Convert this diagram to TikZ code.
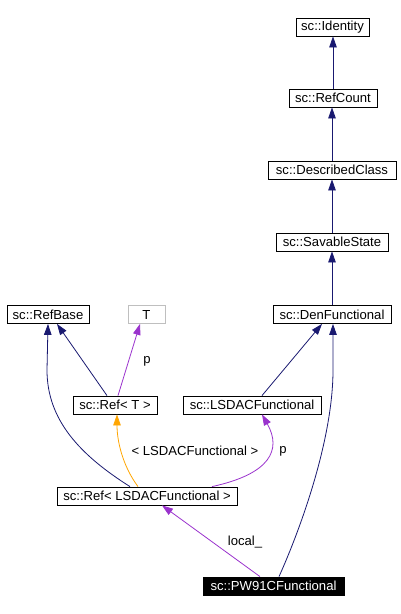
\documentclass[tikz,border=0pt]{standalone}
\usepackage{fontspec}
\setmainfont{Liberation Sans}
\usetikzlibrary{arrows.meta,calc}
\definecolor{navy}{RGB}{25,25,112}
\definecolor{dpurple}{RGB}{154,50,205}
\definecolor{dorange}{RGB}{255,165,0}
\definecolor{gborder}{RGB}{191,191,191}
\begin{document}
\begin{tikzpicture}[x=1pt,y=-1pt,
  font=\fontsize{13.1}{14}\selectfont,
  cls/.style={draw=black,line width=0.8pt,fill=white,minimum height=18pt,inner sep=0pt,anchor=center},
  tmpl/.style={cls,draw=gborder},
  cur/.style={cls,fill=black,text=white},
  inh/.style={draw=navy,line width=0.8pt,-{Triangle[length=11pt,width=7.5pt]}},
  use/.style={draw=dpurple,line width=0.8pt,-{Triangle[length=11pt,width=7.5pt]}},
  tpl/.style={draw=dorange,line width=0.8pt,-{Triangle[length=11pt,width=7.5pt]}},
  lbl/.style={inner sep=0pt,anchor=center}]
\useasboundingbox (0,0) rectangle (400,614);
\node[cls,minimum width=73pt] (Identity) at (332.5,27) {sc::Identity};
\node[cls,minimum width=88pt] (RefCount) at (333,98) {sc::RefCount};
\node[cls,minimum width=128pt] (Described) at (332,170) {sc::DescribedClass};
\node[cls,minimum width=112pt] (Savable) at (332,242) {sc::SavableState};
\node[cls,minimum width=118pt] (Den) at (332,314.5) {sc::DenFunctional};
\node[cls,minimum width=82pt] (RefBase) at (48,314.5) {sc::RefBase};
\node[tmpl,minimum width=37pt] (T) at (146.5,314.5) {T};
\node[cls,minimum width=84pt] (RefT) at (115,405) {sc::Ref< T >};
\node[cls,minimum width=138pt] (LSDAC) at (252,405) {sc::LSDACFunctional};
\node[cls,minimum width=180pt] (RefL) at (147,496) {sc::Ref< LSDACFunctional >};
\node[cur,minimum width=141pt] (PW) at (273.5,586) {sc::PW91CFunctional};

\draw[inh] (RefCount.north) -- (RefCount.north |- Identity.south);
\draw[inh] (Described.north) -- (Described.north |- RefCount.south);
\draw[inh] (Savable.north) -- (Savable.north |- Described.south);
\draw[inh] (Den.north) -- (Den.north |- Savable.south);
\draw[inh] ([xshift=10pt]LSDAC.north) -- ([xshift=-10pt]Den.south);
\draw[inh] ([xshift=5.5pt]PW.north) .. controls (300,530) and (333,440) .. (333,370) -- ([xshift=1pt]Den.south);
\draw[inh] ([xshift=-8pt]RefT.north) -- ([xshift=9pt]RefBase.south);
\draw[inh] ([xshift=-17pt]RefL.north) .. controls (80,455) and (47,420) .. (47,370) -- ([xshift=0pt]RefBase.south);
\draw[use] ([xshift=3pt]RefT.north) -- ([xshift=-6.5pt]T.south);
\node[lbl] (pT) at (147,361) {p};
\draw[tpl] ([xshift=-9pt]RefL.north) .. controls (122,465) and (117,440) .. ([xshift=2pt]RefT.south);
\node[lbl] (lt) at (195,451) {< LSDACFunctional >};
\draw[use] ([xshift=65pt]RefL.north) .. controls (270,474) and (282,450) .. ([xshift=10pt]LSDAC.south);
\node[lbl] (pL) at (283,451) {p};
\draw[use] ([xshift=-13.5pt]PW.north) -- ([xshift=15pt]RefL.south);
\node[lbl] (loc) at (245,542) {local\_};
\end{tikzpicture}
\end{document}
